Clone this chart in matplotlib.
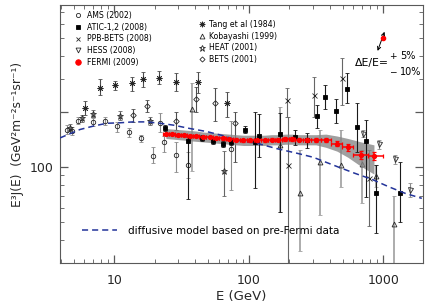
import numpy as np
import matplotlib.pyplot as plt
from matplotlib.lines import Line2D
from matplotlib.ticker import FixedLocator, NullFormatter

# ---- data (E in GeV, E^3 J in GeV^2 m^-2 s^-1 sr^-1), lo/hi = error bar ends
ams_E  = [4.46, 4.83, 5.4, 7.0, 8.6, 10.4, 12.9, 15.8, 19.3, 21.9, 23.6, 28.8, 35.3, 74]
ams_J  = [160, 157, 179, 176, 178, 167, 156, 143, 115, 173, 136, 116, 102, 126]
ams_lo = [152, 149, 171, 168, 169, 156, 146, 137, 105, 156, 121, 94, 87, 75]
ams_hi = [169, 165, 187, 184, 187, 176, 164, 149, 128, 197, 147, 137, 121, 178]

atic_E  = [24, 35.3, 44.6, 54, 64, 74, 94, 112, 120, 171, 221, 270, 324, 371, 442, 540, 640, 742, 880, 1330]
atic_J  = [163, 138, 143, 139, 133, 136, 160, 137, 148, 152, 145, 140, 190, 239, 201, 265, 166, 139, 72, 72.5]
atic_lo = [157, 67, 138, 134, 128, 131, 153, 77, 114, 57, 132, 127, 163, 207, 173, 223, 121, 69, 44, 50]
atic_hi = [169, 146, 149, 145, 139, 142, 167, 200, 194, 197, 159, 154, 217, 279, 234, 324, 223, 180, 102, 107]

ppb_E  = [194, 196, 306, 495, 780]
ppb_J  = [232, 102, 246, 303, 87]
ppb_lo = [188, 20, 188, 217, 48]
ppb_hi = [269, 187, 310, 390, 124]

hess_E  = [709, 925, 1220, 1580]
hess_J  = [152, 133, 110, 75]
hess_lo = [145, 126, 104, 69]
hess_hi = [160, 141, 117, 82]

tang_E  = [6.1, 7.83, 10.2, 13.5, 16.3, 21.5, 28.8, 42, 69]
tang_J  = [209, 270, 279, 285, 300, 303, 291, 291, 222]
tang_lo = [192, 246, 262, 260, 273, 282, 260, 254, 186]
tang_hi = [228, 300, 294, 307, 327, 334, 323, 327, 256]

koba_E  = [37.6, 171, 240, 338, 485, 693, 890, 1210]
koba_J  = [207, 132, 72, 107, 102.5, 104, 89, 49]
koba_lo = [95, 57, 35, 55, 78, 64, 78, 20]
koba_hi = [286, 213, 124, 159, 159, 124, 102, 70]

heat_E  = [4.7, 5.8, 7.0, 11.0, 18.4, 66]
heat_J  = [164, 184, 194, 189, 178, 95]
heat_lo = [157, 176, 186, 180, 170, 70]
heat_hi = [171, 193, 203, 201, 187, 123]

bets_E  = [13.9, 17.5, 28.8, 40.5, 56, 79]
bets_J  = [192, 215, 178, 234, 222, 173]
bets_lo = [176, 200, 159, 200, 178, 107]
bets_hi = [208, 231, 200, 273, 268, 200]

fermi_E = [24.2, 26.9, 29.8, 33.0, 36.5, 40.5, 45.6, 51.5, 57.0, 64.3, 71.3, 80.4, 91.3, 103,
           116, 131, 148, 166, 187, 210, 236, 271, 316, 375, 453, 546, 682, 853]
fermi_J = [152, 151, 150, 149, 148, 147, 146, 145, 144, 143, 142, 141, 140, 140,
           140, 140, 141, 141, 142, 142, 141, 141, 141, 140, 134, 128, 116, 115]
fermi_err = [2, 2, 2, 2, 2, 2, 2, 2, 2, 2, 2, 2, 2.5, 2.5,
             2.5, 2.5, 2.5, 2.5, 3, 3, 3, 3.5, 3.5, 4, 4.5, 5, 6, 6]
fermi_edges = [23, 25.5, 28.3, 31.4, 34.8, 38.5, 43, 48.5, 54, 60.5, 67.8, 76, 85.5, 97, 110,
               124, 139, 157, 176, 198, 222, 252, 292, 342, 410, 495, 600, 770, 1000]
fermi_sys_hi = [162, 161, 160, 159, 158, 157, 155, 154, 153, 152, 151, 150, 149, 149,
                149, 149, 150, 150, 151, 151, 150, 150, 150, 151, 147.5, 143, 137, 132]
fermi_sys_lo = [143, 142, 141, 140, 139, 138, 137, 136, 135, 134, 133, 132, 131, 131,
                131, 131, 132, 132, 133, 133, 132, 132, 132, 128, 122, 113, 101, 91.6]

model_E = [3.95, 5.56, 7.0, 8.8, 11.0, 13.8, 17.4, 21.9, 27.5, 36.5, 48.6, 64.6, 81.3, 116,
           161, 227, 302, 348, 464, 617, 823, 1096, 1454, 1935]
model_J = [144, 160, 167, 173, 174, 176, 176, 173, 169, 162, 156, 148, 140, 134.5,
           126, 119, 113, 108.5, 100, 92.4, 85.8, 78.2, 72, 67.6]

fig = plt.figure(figsize=(4.36, 3.07), dpi=100)
ax = fig.add_axes([60/436, 1-263/307, 363/436, 258/307])
ax.set_xscale('log')
ax.set_yscale('log')


def draw(E, J, lo, hi, marker, ecol, ms=3.5, mfc='none', mec='0.15', z=2, elw=0.8):
    E = np.array(E, float)
    J = np.array(J, float)
    yerr = [J - np.array(lo, float), np.array(hi, float) - J]
    ax.errorbar(E, J, yerr=yerr, fmt='', marker=marker, linestyle='none', ms=ms, mfc=mfc,
                mec=mec, mew=0.6, ecolor=ecol, elinewidth=elw, capsize=1.6, capthick=elw, zorder=z)


draw(koba_E, koba_J, koba_lo, koba_hi, '^', '0.62', elw=1.2)
draw(ams_E, ams_J, ams_lo, ams_hi, 'o', '0.55', ms=3.2)
draw(heat_E, heat_J, heat_lo, heat_hi, '*', '0.4', ms=4.8)
draw(bets_E, bets_J, bets_lo, bets_hi, 'D', '0.3', ms=2.8)
draw(tang_E, tang_J, tang_lo, tang_hi, (8, 2, 0), '0.3', ms=4.2)
draw(ppb_E, ppb_J, ppb_lo, ppb_hi, 'x', '0.4', ms=3.6)
draw(hess_E, hess_J, hess_lo, hess_hi, 'v', '0.55', ms=3.6)
draw(atic_E, atic_J, atic_lo, atic_hi, 's', '0.1', ms=3.2, mfc='k', mec='k', z=3)

ax.plot(model_E, model_J, color='#23349a', lw=1.1, dashes=(4, 2.6), zorder=4)

ax.fill_between(fermi_E, fermi_sys_lo, fermi_sys_hi, color='0.52', alpha=0.78, lw=0, zorder=2.5)
fE = np.array(fermi_E)
edges = np.array(fermi_edges)
ax.errorbar(fE, fermi_J, yerr=fermi_err, xerr=[fE - edges[:-1], edges[1:] - fE],
            fmt='o', color='red', ms=2.8, elinewidth=1.1, capsize=1.5, capthick=0.9, zorder=6)

ax.set_xlim(3.95, 1975)
ax.set_ylim(30.1, 760)
ax.xaxis.set_major_locator(FixedLocator([10, 100, 1000]))
ax.set_xticklabels(['10', '100', '1000'])
ax.xaxis.set_minor_locator(FixedLocator([4, 5, 6, 7, 8, 9, 20, 30, 40, 50, 60, 70, 80, 90,
                                         200, 300, 400, 500, 600, 700, 800, 900]))
ax.yaxis.set_major_locator(FixedLocator([100, 200]))
ax.set_yticklabels(['100', ''])
ax.yaxis.set_minor_locator(FixedLocator([40, 50, 60, 70, 80, 90, 300, 400, 500, 600, 700]))
ax.xaxis.set_minor_formatter(NullFormatter())
ax.yaxis.set_minor_formatter(NullFormatter())
ax.tick_params(which='both', direction='in', top=True, right=True, color='0.35')
ax.tick_params(which='major', length=6, width=0.9, labelsize=9, labelcolor='0.15')
ax.tick_params(which='minor', length=3, width=0.6)
ax.tick_params(axis='x', which='major', pad=8)
ax.tick_params(axis='y', which='major', pad=5)
for s in ax.spines.values():
    s.set_color('0.35')
    s.set_linewidth(0.8)

ax.set_xlabel('E (GeV)', fontsize=9.5, color='0.15', labelpad=2)
ax.set_ylabel('E³J(E)  (GeV²m⁻²s⁻¹sr⁻¹)', fontsize=8.8, color='0.15', labelpad=4)

# legends
def h(marker, ms=3.5, mfc='none', mec='0.15'):
    return Line2D([], [], ls='none', marker=marker, ms=ms, mfc=mfc, mec=mec, mew=0.6)

leg1 = ax.legend([h('o', 3), h('s', 3.5, 'k', 'k'), h('x'), h('v'), h('o', 4, 'red', 'red')],
                 ['AMS (2002)', 'ATIC-1,2 (2008)', 'PPB-BETS (2008)', 'HESS (2008)', 'FERMI (2009)'],
                 loc='upper left', bbox_to_anchor=(74/436, 1-11/307), bbox_transform=fig.transFigure,
                 frameon=False, fontsize=5.6, handlelength=1, handletextpad=0.7,
                 labelspacing=0.35, borderpad=0, borderaxespad=0)
ax.add_artist(leg1)
leg2 = ax.legend([h((8, 2, 0), 4), h('^'), h('*', 4.5), h('D', 2.6)],
                 ['Tang et al (1984)', 'Kobayashi (1999)', 'HEAT (2001)', 'BETS (2001)'],
                 loc='upper left', bbox_to_anchor=(198/436, 1-20/307), bbox_transform=fig.transFigure,
                 frameon=False, fontsize=5.6, handlelength=1, handletextpad=0.4,
                 labelspacing=0.35, borderpad=0, borderaxespad=0)
ax.add_artist(leg2)
ax.legend([Line2D([], [], color='#23349a', lw=1.1, dashes=(4, 2.6))],
          ['diffusive model based on pre-Fermi data'],
          loc='upper left', bbox_to_anchor=(82/436, 1-226/307), bbox_transform=fig.transFigure,
          frameon=False, fontsize=7.5, handlelength=3.4, handletextpad=1.0,
          borderpad=0, borderaxespad=0)

# energy-scale uncertainty annotation
arrow_lo = (893, 414)
arrow_hi = (1039, 562)
dot = (990, 504)
ax.annotate('', xy=arrow_hi, xytext=arrow_lo,
            arrowprops=dict(arrowstyle='<->', color='k', lw=0.7, mutation_scale=6), zorder=7)
ax.plot(*dot, 'o', color='red', ms=3, zorder=8)
ax.text(618, 367, 'ΔE/E=', fontsize=7.8, va='center', ha='left')
ax.text(1185, 400, '+', fontsize=6.5, va='center', ha='center')
ax.text(1185, 330, '−', fontsize=6.5, va='center', ha='center')
ax.text(1340, 400, '5%', fontsize=7, va='center', ha='left')
ax.text(1340, 330, '10%', fontsize=7, va='center', ha='left')

fig.savefig('out.png', dpi=100)
